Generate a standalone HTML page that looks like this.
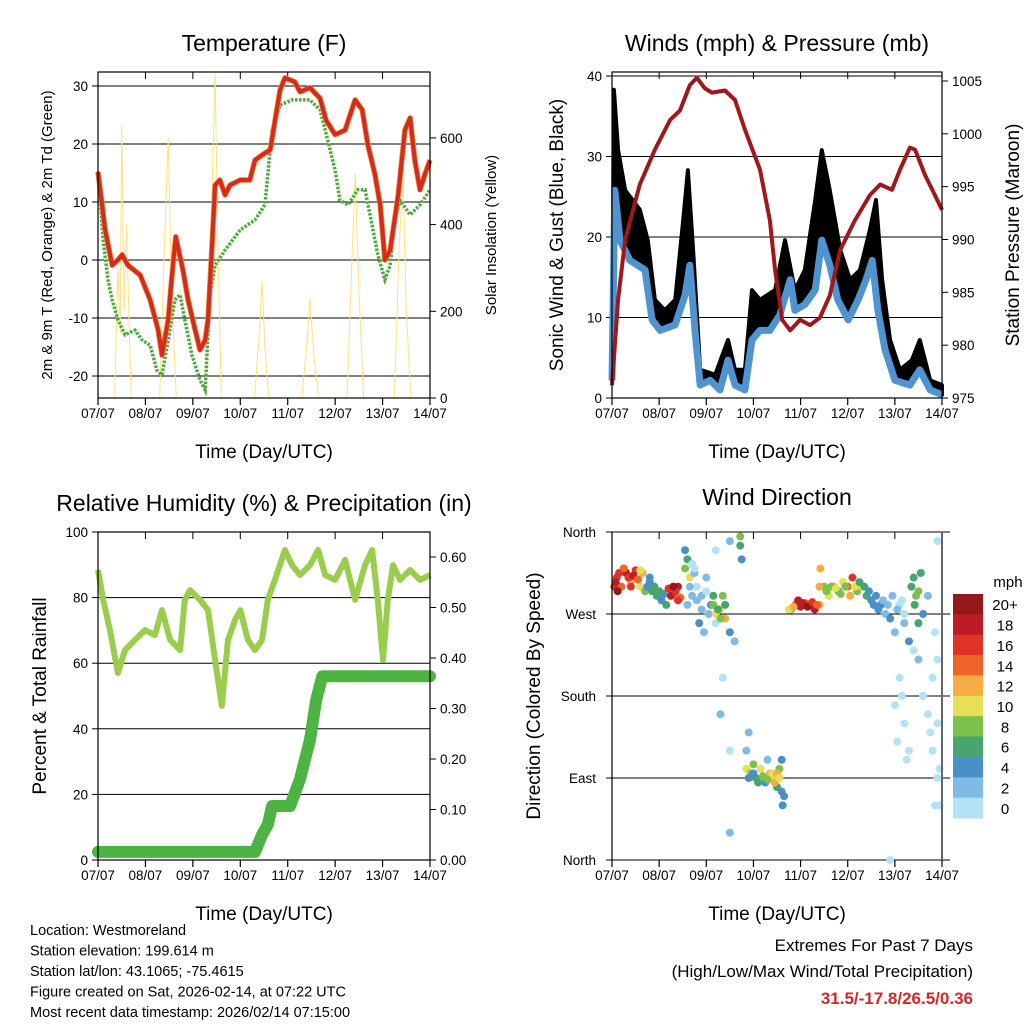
<!DOCTYPE html>
<html><head><meta charset="utf-8"><style>
body{margin:0;background:#fff;}
svg{display:block;font-family:"Liberation Sans",sans-serif;}
</style></head><body>
<svg id="c" width="1024" height="1024" viewBox="0 0 1024 1024"></svg>
<script>
// ---- data ----
const dayLabels=["07/07","08/07","09/07","10/07","11/07","12/07","13/07","14/07"];
const tempTicks=[30,20,10,0,-10,-20];
const solarTicks=[0,200,400,600];
const windTicks=[0,10,20,30,40];
const presTicks=[975,980,985,990,995,1000,1005];
const rhTicks=[0,20,40,60,80,100];
const precipTicks=[0,0.1,0.2,0.3,0.4,0.5,0.6];
const dirTickLabels=["North","East","South","West","North"];
const dirTickVals=[0,90,180,270,360];
const speedBins=["0","2","4","6","8","10","12","14","16","18","20+"];

const tT=[0,.15,.30,.42,.51,.63,.89,1.10,1.27,1.35,1.48,1.56,1.64,1.79,1.90,2.05,2.15,2.26,2.32,2.40,2.47,2.57,2.68,2.78,3.00,3.20,3.31,3.46,3.63,3.84,3.94,4.15,4.26,4.47,4.68,4.81,5.00,5.21,5.42,5.57,5.69,5.84,5.95,6.05,6.16,6.33,6.47,6.58,6.68,6.79,6.89,7.00];
const tV=[15.2,5.2,-0.9,0,0.9,-0.9,-2.6,-6.9,-12.1,-16.4,-10.3,-2.6,4.0,-1.7,-6.9,-12.1,-15.5,-13.8,-10.3,1.7,12.9,13.8,11.2,12.9,13.8,13.8,17.2,18.1,19.0,29.3,31.4,30.7,29.0,29.7,27.9,24.1,21.6,22.4,27.6,25.9,19.8,14.7,9.5,0,1.7,11.2,22.4,24.5,17.2,12.1,14.7,17.2];
const tdT=[0,.11,.21,.30,.42,.57,.78,.93,1.10,1.24,1.35,1.48,1.62,1.73,1.83,1.98,2.15,2.26,2.36,2.47,2.68,3.00,3.31,3.52,3.67,3.84,4.09,4.47,4.68,4.79,5.00,5.10,5.27,5.48,5.63,5.78,5.90,6.05,6.16,6.26,6.37,6.58,6.79,7.00];
const tdV=[15.2,3.4,-3.4,-6.9,-10.3,-12.9,-12.1,-13.8,-14.7,-19.0,-19.8,-13.8,-6.9,-6.0,-10.3,-16.4,-20.7,-22.4,-6.0,-0.9,1.7,5.2,6.9,9.5,22.4,26.7,27.6,27.6,25.9,22.4,15.5,10.3,9.5,12.1,12.1,6.0,0.9,-3.4,-0.9,6.9,10.3,7.8,9.5,12.1];
const solT=[0,0.35,0.42,0.47,0.5,0.55,0.6,0.7,1.3,1.4,1.48,1.55,1.65,2.25,2.35,2.42,2.47,2.52,2.6,3.3,3.4,3.46,3.52,3.6,4.3,4.4,4.47,4.55,4.65,5.25,5.35,5.42,5.5,5.6,6.25,6.35,6.43,6.5,6.6,7];
const solV=[0,0,300,150,630,200,400,0,0,350,600,250,0,0,200,550,750,400,0,0,150,270,120,0,0,120,230,100,0,0,300,520,250,0,0,350,510,200,0,0];
const pT=[0,.13,.28,.59,.91,1.23,1.44,1.65,1.80,1.97,2.12,2.40,2.61,2.82,3.14,3.35,3.46,3.61,3.78,3.99,4.20,4.41,4.62,4.84,5.15,5.47,5.69,5.94,6.11,6.32,6.43,6.64,6.85,7.00];
const pV=[976.2,984.3,990.0,995.2,998.5,1001.3,1002.2,1004.6,1005.3,1004.3,1003.9,1004.1,1003.2,1000.4,996.6,991.8,987.1,982.4,981.4,982.4,981.9,982.6,984.7,989.0,991.8,994.2,995.2,994.7,996.6,998.7,998.5,996.1,994.2,992.8];
const wT=[0,.06,.17,.38,.70,.85,1.02,1.34,1.55,1.65,1.76,1.87,2.08,2.29,2.46,2.61,2.82,2.97,3.14,3.35,3.56,3.78,3.88,4.09,4.31,4.45,4.62,4.79,5.01,5.22,5.39,5.52,5.64,5.79,6.00,6.32,6.53,6.75,7.00];
const wV=[2.2,25.8,19.6,17.1,15.9,9.7,8.4,9.1,12.8,16.5,8.4,1.6,2.2,1.0,4.7,1.6,1.0,7.2,8.4,8.4,10.3,14.7,10.9,11.6,13.4,19.6,16.5,12.2,9.7,12.2,14.7,17.1,10.9,6.0,2.2,1.6,3.5,1.0,0.4];
const gT=[0,.04,.13,.28,.59,.76,.91,1.12,1.34,1.51,1.61,1.72,1.87,2.19,2.46,2.61,2.82,2.97,3.14,3.46,3.67,3.88,4.09,4.31,4.45,4.62,4.84,5.05,5.26,5.47,5.60,5.73,5.90,6.11,6.36,6.53,6.75,7.00];
const gV=[2.2,38.3,30.8,25.8,23.4,19.6,12.2,10.9,12.2,22.1,28.3,18.4,3.5,2.9,7.2,3.5,3.5,13.4,12.2,13.4,19.6,13.4,15.9,24.6,30.8,25.8,18.4,14.7,15.9,20.9,24.6,14.7,7.2,3.5,4.7,7.2,2.2,1.6];
const rhT=[0,.11,.25,.42,.57,.78,.99,1.20,1.35,1.52,1.73,1.83,1.94,2.15,2.32,2.47,2.61,2.74,2.89,3.00,3.16,3.31,3.46,3.58,3.73,3.94,4.09,4.26,4.47,4.64,4.79,5.00,5.21,5.42,5.63,5.78,5.90,6.01,6.11,6.22,6.37,6.58,6.79,7.00];
const rhV=[88.4,79.3,70.1,57,64.0,67.1,70.1,68.6,76.2,67.1,64.0,79.3,82.3,79.3,76.2,61.0,47,67.1,73.2,76.2,67.1,64.0,67.1,79.3,85.4,94.5,89.9,86.9,89.9,94.5,86.9,85.4,91.5,79.3,89.9,94.5,79.3,61.0,79.3,89.9,85.4,88.4,85.4,86.9];
const prT=[0,3.31,3.46,3.58,3.67,4.05,4.26,4.47,4.60,4.73,7.00];
const prV=[0.016,0.016,0.05,0.07,0.107,0.107,0.16,0.238,0.317,0.364,0.364];
const dirT=[0.05,0.1,0.2,0.3,0.4,0.5,0.6,0.7,0.8,0.9,1.0,1.1,1.2,1.3,1.4,1.55,1.6,1.65,1.75,1.8,1.9,2.0,2.1,2.2,2.3,2.35,2.4,2.5,2.6,2.2,2.5,2.3,2.35,2.5,2.72,2.72,2.75,2.85,2.95,3.05,3.15,3.25,3.35,3.45,3.5,3.6,3.65,3.0,3.3,3.55,3.8,3.9,4.0,4.1,4.2,4.3,4.4,4.5,4.6,4.7,4.8,4.9,5.0,5.1,5.2,5.3,5.4,5.5,5.7,5.8,5.9,6.0,6.1,6.2,6.3,6.4,6.5,6.6,6.7,6.8,6.9,6.95,6.0,6.3,5.9,6.9,6.05,6.85,1.7,2.5,
0.08,0.15,0.25,0.35,0.45,0.55,0.65,0.12,0.4,0.6,0.75,0.85,0.95,1.05,1.15,0.8,1.0,1.25,1.35,1.45,1.3,1.4,1.6,1.7,1.8,1.9,2.0,1.65,1.85,1.95,2.05,1.75,1.55,2.15,2.2,2.25,2.3,2.4,2.15,2.9,3.0,3.1,3.2,3.3,3.4,3.45,3.5,3.55,2.85,2.9,3.6,3.62,3.75,3.85,3.95,4.05,4.15,4.25,4.35,4.4,4.42,4.55,4.65,4.75,4.85,4.95,5.05,5.15,5.25,5.35,5.45,5.55,5.6,5.65,5.75,5.85,5.95,6.05,6.15,6.2,6.35,6.4,6.45,6.5,6.55,6.42,6.5,6.1,6.15,6.2,6.25,6.6,6.7,6.75,6.8,6.9,6.95,6.85,6.9];
const dirV=[300,310,300,315,305,318,300,295,305,300,290,292,298,292,300,320,330,310,315,300,290,310,280,260,275,290,265,250,240,340,350,160,200,30,355,345,330,100,95,90,100,85,95,90,80,110,70,105,110,100,275,280,278,282,280,275,280,300,290,300,295,305,300,310,295,300,290,285,280,270,265,250,280,260,240,230,220,270,290,200,150,100,170,120,0,350,130,60,325,120,
305,315,320,310,312,308,315,295,300,318,300,295,290,285,280,310,295,290,295,288,300,285,280,290,285,275,295,300,260,250,270,320,340,280,270,275,265,280,290,90,95,85,92,88,95,85,95,90,120,140,75,60,275,278,285,282,278,283,280,300,320,295,300,298,292,300,290,300,305,300,295,280,290,275,285,280,290,275,285,270,300,310,290,295,315,280,260,200,180,150,110,180,160,140,120,90,60,250,220];
const dirS=[16,16,14,18,12,16,10,8,4,6,8,4,16,14,18,8,6,10,2,0,2,2,4,0,10,8,12,4,2,0,2,2,0,2,8,6,4,10,8,6,10,4,12,10,6,4,4,8,2,8,8,16,18,14,16,18,12,8,10,12,6,10,14,16,8,10,6,4,4,2,4,2,0,2,4,0,2,4,2,0,0,0,0,0,0,0,0,0,0,0,
18,16,14,16,18,14,12,20,16,10,4,6,6,4,6,4,6,18,16,14,20,16,2,2,2,2,0,2,4,2,2,0,4,8,10,6,8,6,6,4,4,6,8,8,10,12,12,10,2,2,4,4,10,12,18,18,20,16,14,12,12,8,8,10,8,8,12,10,6,6,4,4,4,4,2,2,2,2,0,0,6,6,8,8,6,6,6,0,0,0,0,0,0,0,0,0,0,0,0];
const binColors=["#b3e2f7","#7fbbe4","#4a8fc6","#48a56e","#7cc24a","#e6df57","#f6ab43","#ef6428","#df3328","#bc1c24","#951719"];
</script>
<script>
const svg=document.getElementById('c');
const NS='http://www.w3.org/2000/svg';
function mk(tag,attrs,parent){const e=document.createElementNS(NS,tag);for(const k in attrs)e.setAttribute(k,attrs[k]);(parent||svg).appendChild(e);return e;}
function txt(s,x,y,size,anchor,extra){const e=mk('text',Object.assign({x:x,y:y,'font-size':size,'text-anchor':anchor||'middle',fill:'#000'},extra||{}));e.textContent=s;return e;}
function axis(x0,y0,x1,y1,min,max){return {x:d=>x0+(x1-x0)*d/7,y:v=>y1-(y1-y0)*(v-min)/(max-min)};}
function pts(ts,vs,sx,sy){return ts.map((t,i)=>sx(t).toFixed(1)+','+sy(vs[i]).toFixed(1)).join(' ');}

function frame(name,x0,y0,x1,y1,title,ttlY){
  const g=mk('g',{});
  
  
  const t=txt(title,(x0+x1)/2,ttlY,23);
  
  
  for(let i=0;i<=7;i++){
    const x=x0+(x1-x0)*i/7;
    mk('line',{x1:x,y1:y1,x2:x,y2:y1+7,stroke:'#000','stroke-width':1.2});
    mk('line',{x1:x,y1:y0,x2:x,y2:y0+7,stroke:'#000','stroke-width':1});
    const l=txt(dayLabels[i],x,y1+20,13.5);
    
    
  }
  const xt=txt('Time (Day/UTC)',(x0+x1)/2,y1+60,19);
  
  
  return g;
}
function border(x0,y0,x1,y1){mk('rect',{x:x0,y:y0,width:x1-x0,height:y1-y0,fill:'none',stroke:'#000','stroke-width':1.2});}
function yTicks(vals,fy,x0,x1,side,fmt,grid){
  vals.forEach(v=>{const y=fy(v);
    if(grid) mk('line',{x1:x0,y1:y,x2:x1,y2:y,stroke:'#000','stroke-width':1});
    const xx=side==='l'?x0:x1;
    mk('line',{x1:xx,y1:y,x2:side==='l'?xx-6:xx+6,y2:y,stroke:'#000'});
    const l=txt(fmt(v),side==='l'?xx-10:xx+10,y+5,13.5,side==='l'?'end':'start');
    
    
  });
}
function vtitle(s,x,y,size,name){const e=txt(s,x,y,size,'middle',{transform:`rotate(-90 ${x} ${y})`});}

// ===== Temperature =====
frame('temperature-panel',98,72,430,398,'Temperature (F)',51);
const T=axis(98,72,430,398,-23.79,32.41);
const S=axis(98,72,430,398,0,752);
yTicks(tempTicks,T.y,98,430,'l',v=>v,true);
yTicks(solarTicks,S.y,98,430,'r',v=>v,false);
let e=mk('polyline',{points:pts(solT,solV,S.x,S.y),fill:'none',stroke:'#ffe27a','stroke-width':1});


e=mk('polyline',{points:pts(tdT,tdV,T.x,T.y),fill:'none',stroke:'#4daa3c','stroke-width':3.5,'stroke-dasharray':'2.5 1.5'});


e=mk('polyline',{points:pts(tT,tV,T.x,T.y),fill:'none',stroke:'#f08a30','stroke-width':5.5,'stroke-linejoin':'round'});


e=mk('polyline',{points:pts(tT,tV,T.x,T.y),fill:'none',stroke:'#d42a20','stroke-width':4,'stroke-linejoin':'round'});


border(98,72,430,398);
vtitle('2m & 9m T (Red, Orange) & 2m Td (Green)',52,235,15,'y-axis-title-left');
vtitle('Solar Insolation (Yellow)',496,235,15,'y-axis-title-right');

// ===== Winds =====
frame('winds-panel',612,72,942,398,'Winds (mph) & Pressure (mb)',51);
const W=axis(612,72,942,398,0,40.5);
const P=axis(612,72,942,398,975,1005.85);
yTicks(windTicks,W.y,612,942,'l',v=>v,true);
yTicks(presTicks,P.y,612,942,'r',v=>v,false);
const bandPts=pts(gT,gV,W.x,W.y)+' '+pts(wT.slice().reverse(),wV.slice().reverse(),W.x,W.y);
e=mk('polygon',{points:bandPts,fill:'#000',stroke:'#000','stroke-width':4,'stroke-linejoin':'round'});


e=mk('polyline',{points:pts(wT,wV,W.x,W.y),fill:'none',stroke:'#4f94d0','stroke-width':7,'stroke-linejoin':'round'});


e=mk('polyline',{points:pts(pT,pV,P.x,P.y),fill:'none',stroke:'#a0181c','stroke-width':4,'stroke-linejoin':'round'});


border(612,72,942,398);
vtitle('Sonic Wind & Gust (Blue, Black)',563,235,19,'y-axis-title-left');
vtitle('Station Pressure (Maroon)',1019,235,19,'y-axis-title-right');

// ===== RH =====
frame('humidity-panel',98,532,430,860,'Relative Humidity (%) & Precipitation (in)',511);
const R=axis(98,532,430,860,0,100);
const PR=axis(98,532,430,860,0,0.6495);
yTicks(rhTicks,R.y,98,430,'l',v=>v,true);
yTicks(precipTicks,PR.y,98,430,'r',v=>v.toFixed(2),false);
e=mk('polyline',{points:pts(rhT,rhV,R.x,R.y),fill:'none',stroke:'#9acd4c','stroke-width':6,'stroke-linejoin':'round'});


e=mk('polyline',{points:pts(prT,prV,PR.x,PR.y),fill:'none',stroke:'#4db342','stroke-width':12,'stroke-linejoin':'round','stroke-linecap':'round'});


border(98,532,430,860);
vtitle('Percent & Total Rainfall',46,696,19,'y-axis-title-left');

// ===== Wind direction =====
frame('wind-direction-panel',612,532,942,860,'Wind Direction',505);
const D=axis(612,532,942,860,0,360);
dirTickVals.forEach((v,i)=>{const y=D.y(v);
  mk('line',{x1:606,y1:y,x2:950,y2:y,stroke:'#000','stroke-width':1});
  const l=txt(dirTickLabels[i],596,y+5,13.5,'end');
  
  });
dirT.forEach((t,i)=>{
  const bi=Math.min(10,Math.floor(dirS[i]/2));
  const c=mk('circle',{cx:D.x(t),cy:D.y(dirV[i]),r:4,fill:binColors[bi]});
  
  
});
mk('line',{x1:612,y1:532,x2:612,y2:860,stroke:'#000','stroke-width':1.2});
mk('line',{x1:942,y1:532,x2:942,y2:860,stroke:'#666','stroke-width':2});
vtitle('Direction (Colored By Speed)',540,696,19,'y-axis-title-left');
const cbTop=594,cbH=224/11;
const mph=txt('mph',1008,587,15);


for(let i=0;i<11;i++){
  const bi=10-i;
  const r=mk('rect',{x:953,y:cbTop+i*cbH,width:30,height:cbH+0.5,fill:binColors[bi]});
  
  
  const l=txt(speedBins[bi],1005,cbTop+i*cbH+cbH/2+6,15);
  
  
}

// ===== footer =====
["Location: Westmoreland","Station elevation: 199.614 m","Station lat/lon: 43.1065; -75.4615","Figure created on Sat, 2026-02-14, at 07:22 UTC","Most recent data timestamp: 2026/02/14 07:15:00"].forEach((s,i)=>{
  const l=txt(s,30,935+i*20.5,14.5,'start');
  
  
});
let f=txt('Extremes For Past 7 Days',973,951,17,'end');


f=txt('(High/Low/Max Wind/Total Precipitation)',973,977,17,'end');


f=txt('31.5/-17.8/26.5/0.36',973,1004,17,'end',{fill:'#cc2a2a','font-weight':'bold'});


</script>
</body></html>
